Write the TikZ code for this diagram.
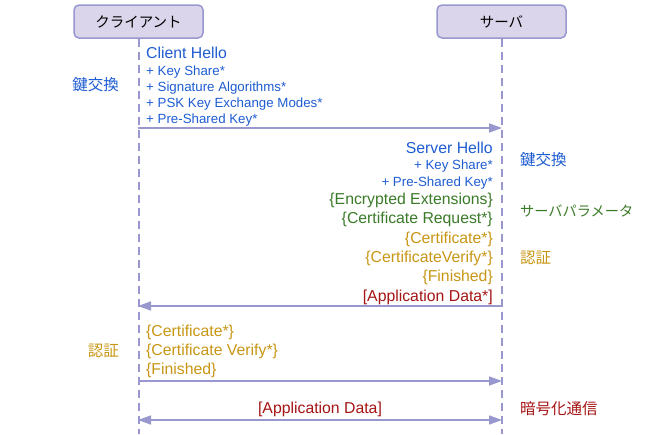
\documentclass[tikz,border=0pt]{standalone}
\usepackage{fontspec}
\setmainfont{Liberation Sans}
\newfontfamily\jpfont{Noto Sans CJK JP}
\usetikzlibrary{arrows.meta}
\definecolor{lineC}{RGB}{152,152,206}
\definecolor{boxF}{RGB}{218,213,235}
\definecolor{msgB}{RGB}{30,92,210}
\definecolor{msgG}{RGB}{58,122,40}
\definecolor{msgY}{RGB}{200,150,20}
\definecolor{msgR}{RGB}{165,20,20}
\begin{document}
\begin{tikzpicture}[x=1pt,y=-1pt,
 actor/.style={draw=lineC, fill=boxF, line width=1.5pt, rounded corners=5pt, minimum width=129pt, minimum height=33pt, inner sep=0pt, font=\jpfont\fontsize{14.5}{18}\selectfont},
 life/.style={draw=lineC, line width=2pt, dash pattern=on 8pt off 5pt},
 msg/.style={draw=lineC, line width=1.5pt, -{Triangle[length=13pt,width=9pt]}},
 dmsg/.style={draw=lineC, line width=1.5pt, {Triangle[length=13pt,width=9pt]}-{Triangle[length=13pt,width=9pt]}},
 big/.style={inner sep=0pt, font=\fontsize{15.8}{18}\selectfont},
 small/.style={inner sep=0pt, font=\fontsize{13.3}{16}\selectfont},
 side/.style={inner sep=0pt, font=\jpfont\fontsize{15.5}{18}\selectfont},
 kana/.style={inner sep=0pt, font=\jpfont\fontsize{14.2}{18}\selectfont},
]
\useasboundingbox (0,0) rectangle (647,434);
% actors
\node[actor] (client) at (138.5,21.5) {クライアント};
\node[actor] (server) at (501.5,21.5) {サーバ};
\coordinate (cend) at (client.south |- 0,434);
\coordinate (send) at (server.south |- 0,434);
\draw[life] (client.south) -- (cend);
\draw[life] (server.south) -- (send);
% message coordinates
\coordinate (c1) at (138,128); \coordinate (s1) at (502,128);
\coordinate (c2) at (138,306); \coordinate (s2) at (502,306);
\coordinate (c3) at (138,381); \coordinate (s3) at (502,381);
\coordinate (c4) at (138,420); \coordinate (s4) at (502,420);
\draw[msg] (c1) -- (s1);
\draw[msg] (s2) -- (c2);
\draw[msg] (c3) -- (s3);
\draw[dmsg] (c4) -- (s4);
% client hello
\node[big, text=msgB, anchor=base west] (ch) at (146,58) {Client Hello};
\node[small, text=msgB, anchor=base west] (ch1) at (146,75) {+ Key Share*};
\node[small, text=msgB, anchor=base west] (ch2) at (146,91) {+ Signature Algorithms*};
\node[small, text=msgB, anchor=base west] (ch3) at (146,107) {+ PSK Key Exchange Modes*};
\node[small, text=msgB, anchor=base west] (ch4) at (146,123) {+ Pre-Shared Key*};
\node[side, text=msgB, anchor=east] (lk) at (119,84.5) {鍵交換};
% server hello
\node[big, text=msgB, anchor=base east] (sh) at (493,153) {Server Hello};
\node[small, text=msgB, anchor=base east] (sh1) at (493,169) {+ Key Share*};
\node[small, text=msgB, anchor=base east] (sh2) at (493,186) {+ Pre-Shared Key*};
\node[big, text=msgG, anchor=base east] (ee) at (493,204) {\{Encrypted Extensions\}};
\node[big, text=msgG, anchor=base east] (cr) at (493,223) {\{Certificate Request*\}};
\node[big, text=msgY, anchor=base east] (sc) at (493,243) {\{Certificate*\}};
\node[big, text=msgY, anchor=base east] (scv) at (493,262) {\{CertificateVerify*\}};
\node[big, text=msgY, anchor=base east] (sf) at (493,281) {\{Finished\}};
\node[big, text=msgR, anchor=base east] (sad) at (493,301) {[Application Data*]};
\node[side, text=msgB, anchor=west] (rk) at (520,160) {鍵交換};
\node[kana, text=msgG, anchor=west] (rp) at (520,211) {サーバパラメータ};
\node[side, text=msgY, anchor=west] (ra) at (520,257.5) {認証};
% client finish
\node[big, text=msgY, anchor=base west] (cc) at (146,336) {\{Certificate*\}};
\node[big, text=msgY, anchor=base west] (ccv) at (146,355) {\{Certificate Verify*\}};
\node[big, text=msgY, anchor=base west] (cf) at (146,374) {\{Finished\}};
\node[side, text=msgY, anchor=east] (la) at (119,351) {認証};
% application data
\node[big, text=msgR, anchor=base] (ad) at (320,413) {[Application Data]};
\node[side, text=msgR, anchor=west] (re) at (520,408.5) {暗号化通信};
\end{tikzpicture}
\end{document}
